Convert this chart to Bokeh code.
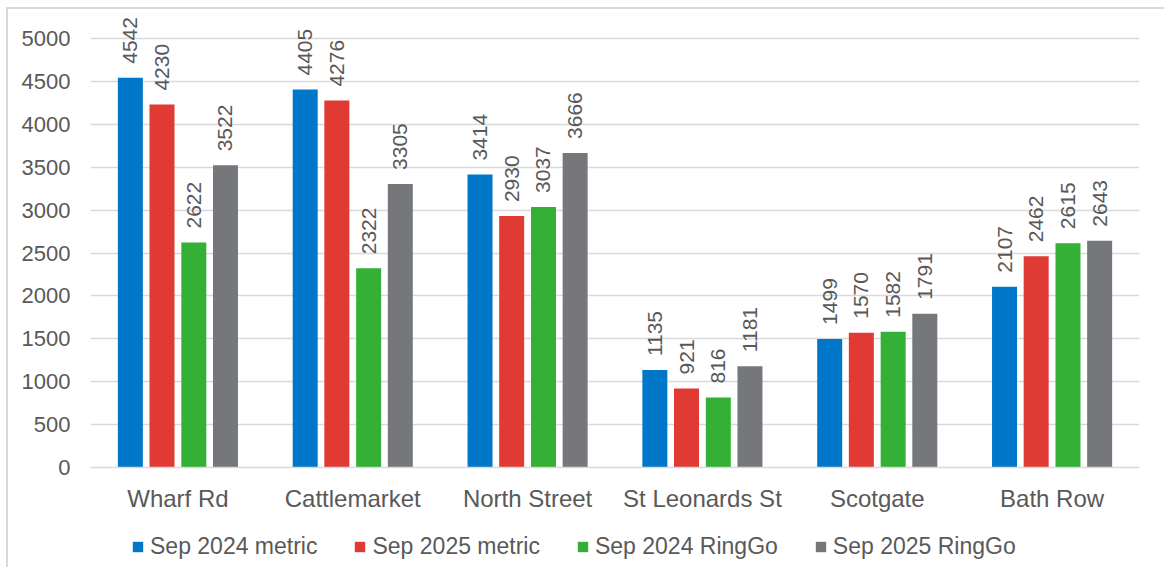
import math
from bokeh.plotting import figure
from bokeh.layouts import column
from bokeh.models import ColumnDataSource, FactorRange, FixedTicker, Legend, LegendItem, Range1d
from bokeh.transform import dodge
from bokeh.core.properties import value
from bokeh.embed import file_html
from bokeh.resources import INLINE

categories = ["Wharf Rd", "Cattlemarket", "North Street", "St Leonards St", "Scotgate", "Bath Row"]
series_names = ["Sep 2024 metric", "Sep 2025 metric", "Sep 2024 RingGo", "Sep 2025 RingGo"]
sep2024_metric = [4542, 4405, 3414, 1135, 1499, 2107]
sep2025_metric = [4230, 4276, 2930, 921, 1570, 2462]
sep2024_ringgo = [2622, 2322, 3037, 816, 1582, 2615]
sep2025_ringgo = [3522, 3305, 3666, 1181, 1791, 2643]
y_ticks = [0, 500, 1000, 1500, 2000, 2500, 3000, 3500, 4000, 4500, 5000]

colors = ["#0077C8", "#E03A34", "#33B035", "#76777B"]
offsets = [-0.272, -0.091, 0.091, 0.272]
series = [sep2024_metric, sep2025_metric, sep2024_ringgo, sep2025_ringgo]

TEXT = "#595959"
GRID = "#D9D9D9"
FONT = "Liberation Sans"

# frame: top at 14, 5000 gridline at 38, zero at 467 (screen px)
px_per_unit = (467 - 38) / 5000.0
y_end = 5000 + (38 - 14) / px_per_unit

p = figure(x_range=FactorRange(*categories), y_range=(0, y_end),
           frame_width=1049, frame_height=453, output_backend="svg", toolbar_location=None,
           min_border_left=82, min_border_right=25, min_border_top=5, min_border_bottom=60)
p.outline_line_color = None

data = {"cat": categories}
for i, s in enumerate(series):
    data[f"s{i}"] = s
    data[f"l{i}"] = [str(v) for v in s]
src = ColumnDataSource(data)

for i in range(4):
    p.vbar(x=dodge("cat", offsets[i], range=p.x_range), top=f"s{i}", width=0.143,
           source=src, fill_color=colors[i], line_color=None)
    p.text(x=dodge("cat", offsets[i], range=p.x_range), y=f"s{i}", text=f"l{i}", source=src,
           angle=math.pi / 2, text_align="left", text_baseline="middle", y_offset=-14,
           text_font=value(FONT), text_font_size="21px", text_color=TEXT)

p.yaxis.ticker = FixedTicker(ticks=y_ticks)
p.ygrid.ticker = FixedTicker(ticks=y_ticks)
p.xgrid.grid_line_color = None
p.ygrid.grid_line_color = GRID
p.ygrid.grid_line_width = 1.5

p.yaxis.axis_line_color = None
p.yaxis.major_tick_line_color = None
p.yaxis.minor_tick_line_color = None
p.yaxis.major_label_standoff = 14
p.yaxis.major_label_text_font = FONT
p.yaxis.major_label_text_font_size = "22px"
p.yaxis.major_label_text_color = TEXT

p.xaxis.axis_line_color = GRID
p.xaxis.axis_line_width = 1.5
p.xaxis.major_tick_line_color = None
p.xaxis.minor_tick_line_color = None
p.xaxis.major_label_standoff = 11
p.xaxis.major_label_text_font = FONT
p.xaxis.major_label_text_font_size = "24px"
p.xaxis.major_label_text_color = TEXT

# legend strip below the chart (swatch renderers sit outside its visible range)
lg = figure(frame_width=1049, frame_height=40, output_backend="svg", toolbar_location=None,
            x_axis_type=None, y_axis_type=None, x_range=Range1d(0, 1), y_range=Range1d(0, 1),
            min_border_left=82, min_border_right=25, min_border_top=0, min_border_bottom=0)
lg.outline_line_color = None
lg.xgrid.grid_line_color = None
lg.ygrid.grid_line_color = None
items = []
for i in range(4):
    r = lg.vbar(x=[-10], top=[-10], bottom=[-11], width=0.5, fill_color=colors[i], line_color=None)
    items.append(LegendItem(label=series_names[i], renderers=[r]))

legend = Legend(items=items, orientation="horizontal", location=(41, 7),
                glyph_width=13, glyph_height=13, label_standoff=6, spacing=36,
                padding=0, margin=0, border_line_color=None, background_fill_alpha=0,
                label_text_font=FONT, label_text_font_size="23px", label_text_color=TEXT)
lg.add_layout(legend, "center")

layout = column(p, lg, spacing=0)
layout.styles = {"margin-left": "6px", "margin-top": "7px",
                 "border-left": "2px solid #D9D9D9", "border-top": "2px solid #D9D9D9"}

open("out.html", "w").write(file_html(layout, INLINE))
